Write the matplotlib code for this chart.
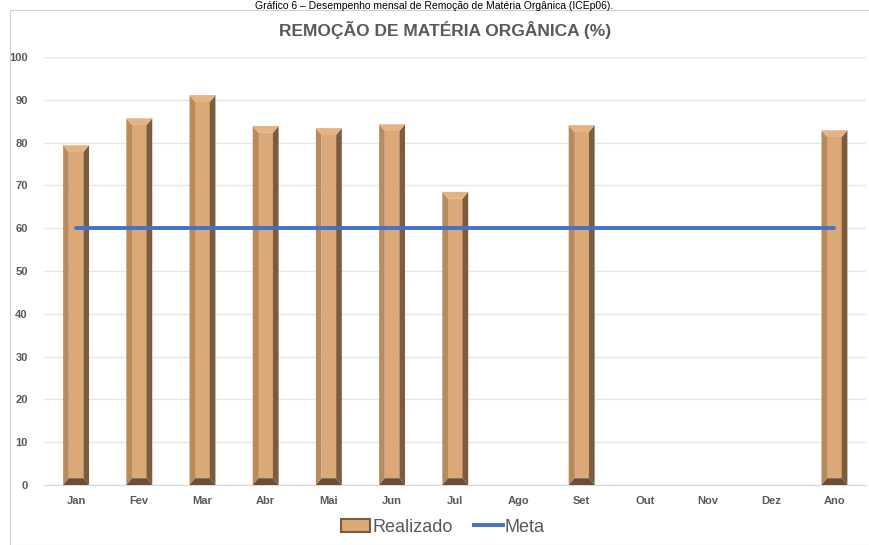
import matplotlib.pyplot as plt
from matplotlib.patches import Polygon, Rectangle, Patch
from matplotlib.lines import Line2D

# ---------------------------------------------------------------------------
# Data
# ---------------------------------------------------------------------------
months = ["Jan", "Fev", "Mar", "Abr", "Mai", "Jun", "Jul", "Ago",
          "Set", "Out", "Nov", "Dez", "Ano"]
realizado = [79.4, 85.7, 91.1, 83.9, 83.4, 84.3, 68.5, None,
             84.1, None, None, None, 82.9]
meta = [60] * len(months)

GRAY = "#595959"
FACE = "#dba878"
LEFT = "#b88b5f"
RIGHT = "#7c5c3d"
TOP = "#e2b383"
BOTTOM = "#6b4e33"
BLUE = "#4472c4"

plt.rcParams["font.family"] = ["Liberation Sans Narrow", "Liberation Sans", "DejaVu Sans"]

fig = plt.figure(figsize=(8.69, 5.45), dpi=100)
ax = fig.add_axes([0.0512, 0.110, 0.9454, 0.7853])

# chart frame
fig.patches.append(Rectangle((10 / 869, 0.0), 1.0, 1 - 10 / 545, transform=fig.transFigure,
                             fill=False, edgecolor="#d0d0d0", linewidth=0.8))

# bevelled bars
w = 0.41
dx = 0.09
dy = 1.6
for i, v in enumerate(realizado):
    if v is None:
        continue
    x0, x1 = i - w / 2, i + w / 2
    ax.add_patch(Rectangle((x0 + dx, dy), w - 2 * dx, v - 2 * dy, facecolor=FACE, lw=0, zorder=3))
    ax.add_patch(Polygon([(x0, 0), (x0, v), (x0 + dx, v - dy), (x0 + dx, dy)], facecolor=LEFT, lw=0, zorder=3))
    ax.add_patch(Polygon([(x1, 0), (x1, v), (x1 - dx, v - dy), (x1 - dx, dy)], facecolor=RIGHT, lw=0, zorder=3))
    ax.add_patch(Polygon([(x0, v), (x1, v), (x1 - dx, v - dy), (x0 + dx, v - dy)], facecolor=TOP, lw=0, zorder=3))
    ax.add_patch(Polygon([(x0, 0), (x1, 0), (x1 - dx, dy), (x0 + dx, dy)], facecolor=BOTTOM, lw=0, zorder=3))

ax.plot(range(len(months)), meta, color=BLUE, linewidth=2.8, solid_capstyle="round", zorder=4)

ax.set_xlim(-0.5, len(months) - 0.5)
ax.set_ylim(0, 100)
ax.set_yticks(range(0, 101, 10))
ax.set_xticks(range(len(months)))
ax.set_xticklabels(months)
ax.tick_params(axis="both", length=0, labelsize=8, labelcolor=GRAY, pad=8)
ax.tick_params(axis="y", pad=12)
for lbl in ax.get_xticklabels() + ax.get_yticklabels():
    lbl.set_fontweight("bold")
ax.yaxis.grid(True, color="#e6e6e6", linewidth=1.0, zorder=0)
ax.set_axisbelow(True)
for s in ("top", "right", "left"):
    ax.spines[s].set_visible(False)
ax.spines["bottom"].set_color("#d9d9d9")

fig.text(0.512, 0.945, "REMOÇÃO DE MATÉRIA ORGÂNICA (%)", ha="center", va="center",
         fontsize=12.5, fontweight="bold", color=GRAY)
fig.text(0.5, 0.999, "Gráfico 6 – Desempenho mensal de Remoção de Matéria Orgânica (ICEp06).",
         ha="center", va="top", fontsize=7.5, color="#000000")

handles = [Patch(facecolor=FACE, edgecolor=RIGHT, linewidth=1.5),
           Line2D([0], [0], color=BLUE, linewidth=2.8)]
fig.legend(handles, ["Realizado", "Meta"], loc="center", bbox_to_anchor=(0.51, 0.033),
           ncol=2, frameon=False, fontsize=13, labelcolor=GRAY, handlelength=1.6,
           handletextpad=0.1, columnspacing=1.2)

fig.savefig("out.png", dpi=100)
